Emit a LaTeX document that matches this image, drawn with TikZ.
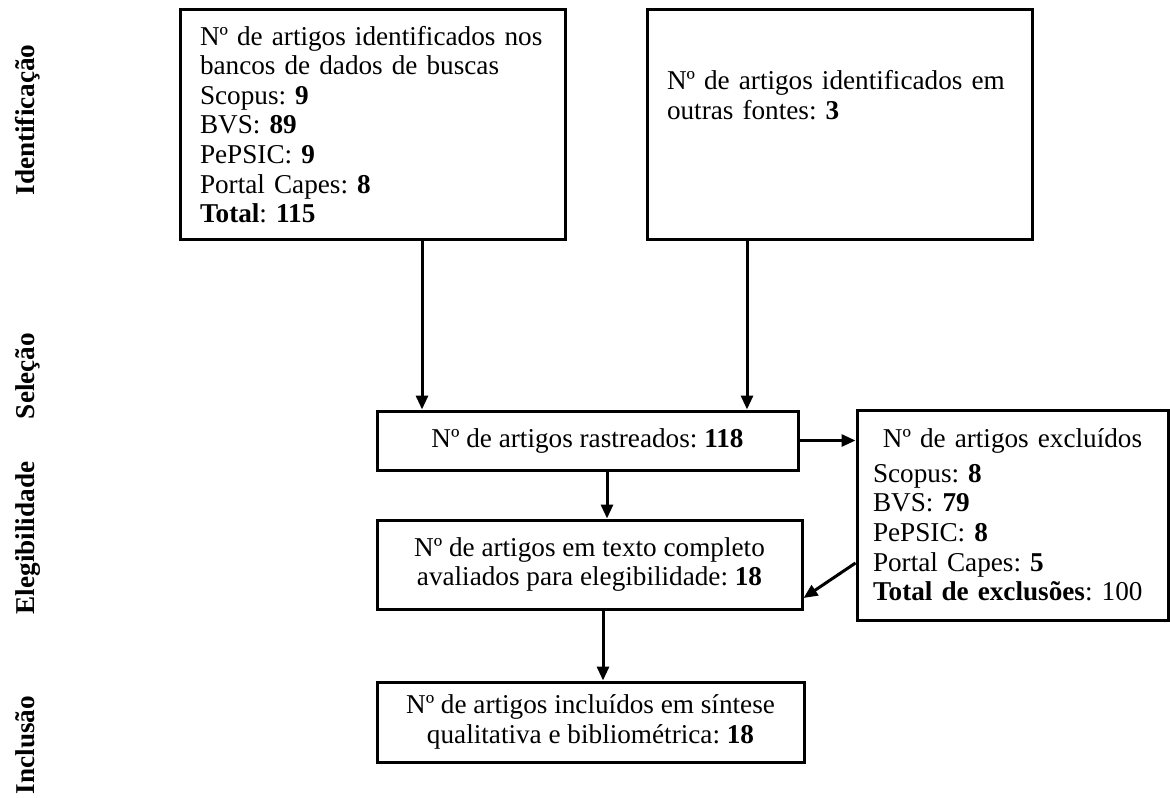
\documentclass[tikz,border=0pt]{standalone}
\usepackage{fontspec}
\setmainfont{Liberation Serif}
\usetikzlibrary{arrows.meta}
\frenchspacing
\newlength{\du}
\setlength{\du}{0.5pt}
\newcommand{\fonte}{\fontsize{13.6}{14.8}\selectfont}
\tikzset{
  caixa/.style={draw=black, line width=1.5pt, inner ysep=2pt},
  rotulo/.style={rotate=90, anchor=base, font=\fonte\bfseries},
  seta/.style={line width=1.5pt, -{Triangle[length=7pt,width=6pt]}}
}
\begin{document}
\begin{tikzpicture}[font=\fonte]
\pgftransformxscale{1.000000}
\pgftransformyscale{-1.000000}
\useasboundingbox (0\du,0\du) rectangle (1170\du,797\du);
% fases
\node[rotulo] (fase1) at (34\du,120\du){Identificação};
\node[rotulo] (fase2) at (34\du,376\du){Seleção};
\node[rotulo] (fase3) at (34\du,538\du){Elegibilidade};
\node[rotulo] (fase4) at (34\du,745\du){Inclusão};
% caixas
\node[caixa, align=left, text width=345\du, inner xsep=20\du, minimum height=229\du] (bancos) at (372.5\du,124.5\du){Nº de artigos identificados nos\\bancos de dados de buscas\\Scopus: \textbf{9}\\BVS: \textbf{89}\\PePSIC: \textbf{9}\\Portal Capes: \textbf{8}\\\textbf{Total}: \textbf{115}};
\node[caixa, align=left, text width=345\du, inner xsep=20\du, minimum height=229\du] (outras) at (839.5\du,124.5\du){Nº de artigos identificados em\\outras fontes: \textbf{3}\\~\\~};
\node[caixa, minimum width=421\du, minimum height=59\du] (rastreados) at (587.5\du,440.5\du){Nº de artigos rastreados: \textbf{118}};
\node[caixa, align=center, minimum width=425\du, minimum height=89\du] (elegiveis) at (589.5\du,564.5\du){Nº de artigos em texto completo\\avaliados para elegibilidade: \textbf{18}};
\node[caixa, align=center, minimum width=427\du, minimum height=80\du] (incluidos) at (590.5\du,722\du){Nº de artigos incluídos em síntese\\qualitativa e bibliométrica: \textbf{18}};
\node[caixa, align=left, text width=279\du, inner xsep=16\du, minimum height=210\du] (excluidos) at (1012.5\du,515\du){\makebox[\hsize][c]{Nº de artigos excluídos}\\[2.5pt]Scopus: \textbf{8}\\BVS: \textbf{79}\\PePSIC: \textbf{8}\\Portal Capes: \textbf{5}\\\textbf{Total de exclusões}: 100};
% setas
\draw[seta] ([xshift=49.5\du]bancos.south) -- ([xshift=49.5\du]bancos.south |- rastreados.north);
\draw[seta] ([xshift=-92.5\du]outras.south) -- ([xshift=-92.5\du]outras.south |- rastreados.north);
\draw[seta] (rastreados.east) -- (rastreados.east -| excluidos.west);
\draw[seta] ([xshift=19.5\du]rastreados.south) -- ([xshift=19.5\du]rastreados.south |- elegiveis.north);
\draw[seta] ([xshift=13.5\du]elegiveis.south) -- ([xshift=13.5\du]elegiveis.south |- incluidos.north);
\draw[seta] ([yshift=48\du]excluidos.west) -- ([yshift=33.5\du]elegiveis.east);
\end{tikzpicture}
\end{document}
